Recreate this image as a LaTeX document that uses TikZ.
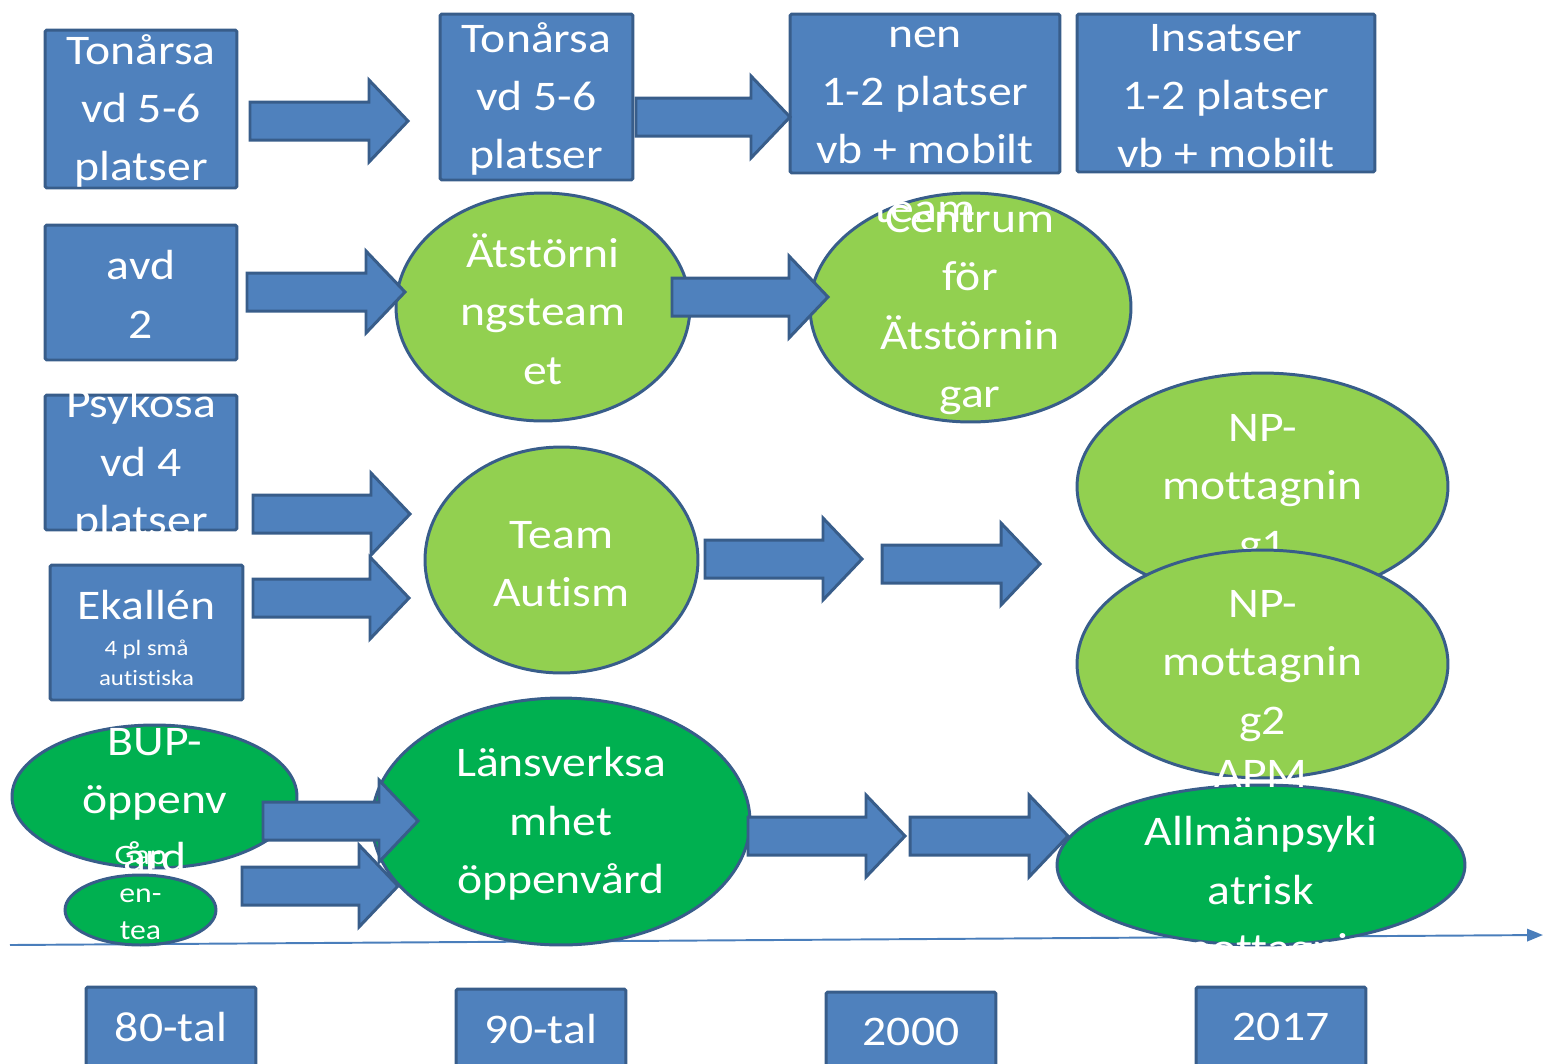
\documentclass[tikz,border=0pt]{standalone}
\usepackage{fontspec}
\setmainfont{Carlito}[FakeStretch=1.13, Ligatures=NoCommon]
\usetikzlibrary{calc,shapes.geometric,arrows.meta}

\definecolor{boxblue}{HTML}{4F81BD}
\definecolor{rimblue}{HTML}{385D8A}
\definecolor{lightgreen}{HTML}{92D050}
\definecolor{darkgreen}{HTML}{00B050}
\definecolor{lineblue}{HTML}{4A7EBB}

\tikzset{
  bluebox/.style={draw=rimblue, fill=boxblue, line width=1.7pt, rounded corners=1pt, inner sep=0pt},
  greenoval/.style={ellipse, draw=rimblue, fill=lightgreen, line width=1.7pt, inner sep=0pt},
  darkoval/.style={greenoval, fill=darkgreen},
  blockarrow/.style={draw=rimblue, fill=boxblue, line width=1.7pt, line join=miter},
  txt/.style={text=white, align=center, inner sep=0pt, font=\fontsize{24}{33.2}\selectfont},
  smalltxt/.style={txt, font=\fontsize{12.5}{17}\selectfont},
  midtxt/.style={txt, font=\fontsize{16}{21.3}\selectfont}
}

% fat arrow from one named point to another
\newcommand{\fatarrow}[2]{%
  \draw[blockarrow] ($(#1)+(0,-19)$) -- ($(#2)+(-39,-19)$) -- ($(#2)+(-39,-41)$) -- (#2)
    -- ($(#2)+(-39,41)$) -- ($(#2)+(-39,19)$) -- ($(#1)+(0,19)$) -- cycle;}

\begin{document}
\begin{tikzpicture}[x=0.02cm, y=-0.02cm]

\useasboundingbox (0,0) rectangle (1543,1063);

% Time axis
\coordinate (T0) at (10,945);
\coordinate (T1) at (1543,935);
\draw[lineblue, line width=1.1pt, -{Triangle[length=9pt,width=7pt]}] (T0) -- (T1);

% Row 1: boxes
\node[bluebox, minimum width=3.84cm, minimum height=3.16cm] (tonA) at (141,109) {};
\node[txt] (tonAt) at (141,111) {Tonårsa\\vd 5-6\\platser};
\node[bluebox, minimum width=3.86cm, minimum height=3.32cm] (tonB) at (536.5,97) {};
\node[txt] (tonBt) at (536.5,99) {Tonårsa\\vd 5-6\\platser};
\node[bluebox, minimum width=5.96cm, minimum height=3.16cm] (ins) at (1226,93) {};
\node[txt] (inst) at (1226,96) {Insatser\\1-2 platser\\vb + mobilt};

% Left column
\node[bluebox, minimum width=3.84cm, minimum height=2.70cm] (avd) at (141,292.5) {};
\node[txt] (avdt) at (141,294.5) {avd\\2};
\node[bluebox, minimum width=3.84cm, minimum height=2.70cm] (psy) at (141,462.5) {};
\node[txt] (psyt) at (141,465) {Psykosa\\vd 4\\platser};
\node[bluebox, minimum width=3.86cm, minimum height=2.70cm] (eka) at (146.5,632.5) {};
\node[txt] (ekat) at (146.5,605) {Ekallén};
\node[smalltxt] (ekas) at (146.5,663) {4 pl små\\autistiska};

% Year boxes
\node[bluebox, minimum width=3.40cm, minimum height=1.60cm] (y80) at (171,1027) {};
\node[txt] (y80t) at (171,1027) {80-tal};
\node[bluebox, minimum width=3.40cm, minimum height=1.60cm] (y90) at (541,1029) {};
\node[txt] (y90t) at (541,1029) {90-tal};
\node[bluebox, minimum width=3.40cm, minimum height=1.60cm] (y00) at (911,1032) {};
\node[txt] (y00t) at (911,1032) {2000};
\node[bluebox, minimum width=3.40cm, minimum height=1.60cm] (y17) at (1281,1027) {};
\node[txt] (y17t) at (1281,1027) {2017};

% Ovals
\node[greenoval, minimum width=5.88cm, minimum height=4.56cm] (ats) at (543,307) {};
\node[txt] (atst) at (543,309) {Ätstörni\\ngsteam\\et};
\node[greenoval, minimum width=6.42cm, minimum height=4.58cm] (cen) at (970.5,307.5) {};
\node[txt] (cent) at (970,310) {Centrum\\för\\Ätstörnin\\gar};
\node[greenoval, minimum width=5.46cm, minimum height=4.52cm] (aut) at (561.5,560) {};
\node[txt] (autt) at (561.5,564) {Team\\Autism};
\node[greenoval, minimum width=7.42cm, minimum height=4.54cm] (npA) at (1262.5,486.5) {};
\node[txt] (npAt) at (1262.5,490) {NP-\\mottagnin\\g1};
\node[greenoval, minimum width=7.42cm, minimum height=4.56cm] (npB) at (1262.5,664) {};
\node[txt] (npBt) at (1262.5,666) {NP-\\mottagnin\\g2};
\node[darkoval, minimum width=8.16cm, minimum height=3.20cm] (apm) at (1261,865) {};
\node[txt] (apmt) at (1261,865) {APM\\Allmänpsyki\\atrisk\\mottagni};
\node[darkoval, minimum width=5.70cm, minimum height=2.86cm] (bup) at (154.5,796.5) {};
\node[txt] (bupt) at (155,800) {BUP-\\öppenv\\ård};
\node[darkoval, minimum width=3.02cm, minimum height=1.40cm] (gap) at (140.5,910) {};
\node[midtxt] (gapt) at (140.5,893) {Gap\\en-\\tea};
\node[darkoval, minimum width=7.56cm, minimum height=4.94cm] (lan) at (561,821.5) {};
\node[txt] (lant) at (561,824) {Länsverksa\\mhet\\öppenvård};

% Third top box (its text runs down into the Centrum oval)
\node[bluebox, minimum width=5.40cm, minimum height=3.18cm] (tonC) at (925,93.5) {};
\node[txt] (tonCt) at (925,124.5) {nen\\1-2 platser\\vb + mobilt\\team};

% Arrow end points
\coordinate (a1) at (250,121);  \coordinate (b1) at (408,121);
\coordinate (a2) at (636,117);  \coordinate (b2) at (790,117);
\coordinate (a3) at (247,292);  \coordinate (b3) at (405,292);
\coordinate (a4) at (672,297);  \coordinate (b4) at (828,297);
\coordinate (a5) at (253,514);  \coordinate (b5) at (410,514);
\coordinate (a6) at (253,598);  \coordinate (b6) at (409,598);
\coordinate (a7) at (705,559);  \coordinate (b7) at (862,559);
\coordinate (a8) at (882,564);  \coordinate (b8) at (1040,564);
\coordinate (a9) at (263,821);  \coordinate (b9) at (418,821);
\coordinate (a10) at (242,886); \coordinate (b10) at (398,886);
\coordinate (a11) at (748,836); \coordinate (b11) at (905,836);
\coordinate (a12) at (910,836); \coordinate (b12) at (1068,836);

% Draw arrows
\fatarrow{a1}{b1}
\fatarrow{a2}{b2}
\fatarrow{a3}{b3}
\fatarrow{a4}{b4}
\fatarrow{a5}{b5}
\fatarrow{a6}{b6}
\fatarrow{a7}{b7}
\fatarrow{a8}{b8}
\fatarrow{a9}{b9}
\fatarrow{a10}{b10}
\fatarrow{a11}{b11}
\fatarrow{a12}{b12}

\end{tikzpicture}
\end{document}
